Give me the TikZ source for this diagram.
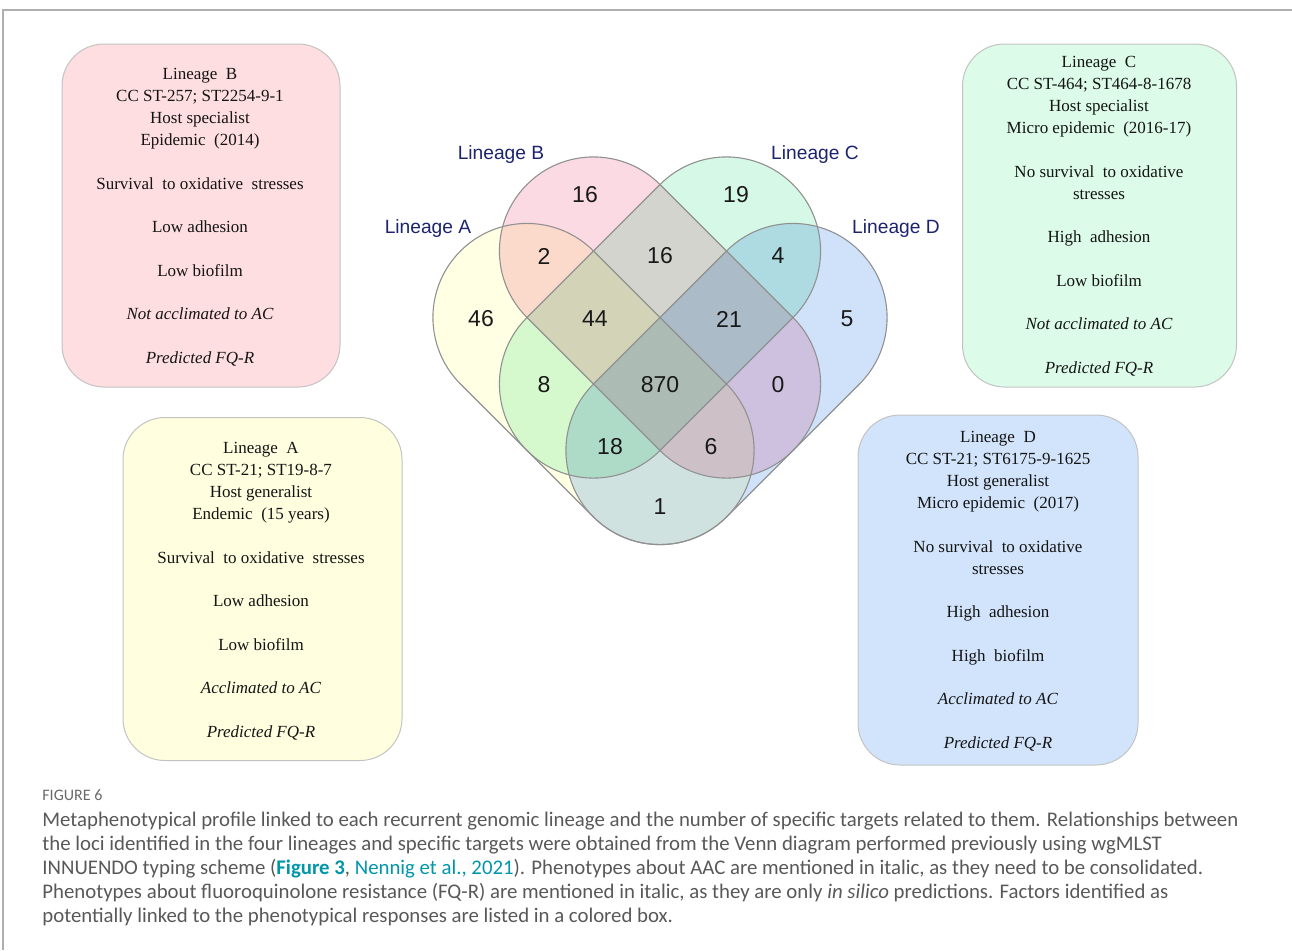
\documentclass[tikz,border=0pt]{standalone}
\usepackage{fontspec}
\setmainfont{Liberation Serif}
\newfontfamily\lsans{Liberation Sans}
\newfontfamily\capfont{Carlito}
\definecolor{vA}{RGB}{255,255,228}
\definecolor{vB}{RGB}{252,218,228}
\definecolor{vC}{RGB}{214,248,230}
\definecolor{vD}{RGB}{208,226,250}
\definecolor{vline}{RGB}{145,145,145}
\definecolor{bxA}{RGB}{255,255,224}
\definecolor{bxB}{RGB}{254,222,224}
\definecolor{bxC}{RGB}{220,251,232}
\definecolor{bxD}{RGB}{210,228,251}
\definecolor{bxline}{RGB}{195,195,195}
\definecolor{navy}{RGB}{28,36,110}
\definecolor{capgray}{RGB}{88,88,88}
\definecolor{linkteal}{RGB}{0,150,170}
\definecolor{framegray}{RGB}{175,175,175}
\newcommand\capsulepath[4]{%
  \path[#4, shift={(#1,#2)}, rotate=#3, rounded corners=47pt]
    (-188.1,-94.05) -- (188.1,-94.05) -- (188.1,94.05) -- (-188.1,94.05) -- cycle;}
\begin{document}
\begin{tikzpicture}[x=0.5pt,y=-0.5pt,
  lbox/.style={draw=bxline, line width=0.5pt, rounded corners=21pt, inner sep=0pt},
  boxtext/.style={font=\fontsize{8.5}{11}\selectfont, align=center, inner sep=0pt, anchor=north, text=black!92},
  linlab/.style={font=\lsans\fontsize{9.6}{12}\selectfont, text=navy, inner sep=0pt},
  num/.style={font=\lsans\fontsize{11.5}{14}\selectfont, text=black!90, inner sep=0pt},
  captext/.style={font=\capfont\fontsize{10.4}{12}\selectfont, text=capgray, align=left, inner sep=0pt}
]
\useasboundingbox (0,0) rectangle (1292,950);
% page frame
\draw[framegray, line width=0.8pt] (3,950) -- (3,10) -- (1292,10);

% lineage boxes
\node[lbox, fill=bxB, minimum width=139pt, minimum height=171.5pt] (boxB) at (201,215.5) {};
\node[lbox, fill=bxC, minimum width=137pt, minimum height=171.5pt] (boxC) at (1099.5,215.5) {};
\node[lbox, fill=bxA, minimum width=139.5pt, minimum height=171.5pt] (boxA) at (262.5,589) {};
\node[lbox, fill=bxD, minimum width=140pt, minimum height=175pt] (boxD) at (998,590) {};

\node[boxtext] (tB) at (200,68) {Lineage~ B\\CC ST-257; ST2254-9-1\\Host specialist\\Epidemic~ (2014)\\[10.75pt]
Survival~ to oxidative~ stresses\\[10.75pt]Low adhesion\\[10.75pt]Low biofilm\\[10.75pt]\textit{Not acclimated to AC}\\[10.75pt]\textit{Predicted FQ-R}};
\node[boxtext] (tC) at (1099,56) {Lineage~ C\\CC ST-464; ST464-8-1678\\Host specialist\\Micro epidemic~ (2016-17)\\[10.75pt]
No survival~ to oxidative\\stresses\\[10.75pt]High~ adhesion\\[10.75pt]Low biofilm\\[10.75pt]\textit{Not acclimated to AC}\\[10.75pt]\textit{Predicted FQ-R}};
\node[boxtext] (tA) at (261,442) {Lineage~ A\\CC ST-21; ST19-8-7\\Host generalist\\Endemic~ (15 years)\\[10.75pt]
Survival~ to oxidative~ stresses\\[10.75pt]Low adhesion\\[10.75pt]Low biofilm\\[10.75pt]\textit{Acclimated to AC}\\[10.75pt]\textit{Predicted FQ-R}};
\node[boxtext] (tD) at (998,431) {Lineage~ D\\CC ST-21; ST6175-9-1625\\Host generalist\\Micro epidemic~ (2017)\\[10.75pt]
No survival~ to oxidative\\stresses\\[10.75pt]High~ adhesion\\[10.75pt]High~ biofilm\\[10.75pt]\textit{Acclimated to AC}\\[10.75pt]\textit{Predicted FQ-R}};

% Venn diagram: four capsules
\begin{scope}[blend group=multiply]
  \capsulepath{593.5}{384}{-45}{fill=vA}
  \capsulepath{660}{317.5}{-45}{fill=vB}
  \capsulepath{660}{317.5}{45}{fill=vC}
  \capsulepath{726.5}{384}{45}{fill=vD}
\end{scope}
\capsulepath{593.5}{384}{-45}{draw=vline, line width=0.55pt}
\capsulepath{660}{317.5}{-45}{draw=vline, line width=0.55pt}
\capsulepath{660}{317.5}{45}{draw=vline, line width=0.55pt}
\capsulepath{726.5}{384}{45}{draw=vline, line width=0.55pt}

% set labels
\node[linlab] (lA) at (428,229) {Lineage A};
\node[linlab] (lB) at (501,155) {Lineage B};
\node[linlab] (lC) at (815,155) {Lineage C};
\node[linlab] (lD) at (896,229) {Lineage D};

% region counts
\node[num] (nB) at (585,195) {16};
\node[num] (nC) at (736,195) {19};
\node[num] (nAB) at (544,256) {2};
\node[num] (nBC) at (660,256) {16};
\node[num] (nCD) at (778,256) {4};
\node[num] (nA) at (481,319) {46};
\node[num] (nABC) at (595,319) {44};
\node[num] (nBCD) at (729,319) {21};
\node[num] (nD) at (847,319) {5};
\node[num] (nAC) at (544,385) {8};
\node[num] (nABCD) at (660,385) {870};
\node[num] (nBD) at (778,385) {0};
\node[num] (nACD) at (610,447) {18};
\node[num] (nABD) at (711,447) {6};
\node[num] (nAD) at (660,507) {1};

% caption
\node[font=\capfont\fontsize{8}{9}\selectfont, text=capgray!90, anchor=west, inner sep=0pt] (fig) at (42,795) {FIGURE 6};
\node[captext, anchor=north west] (cap) at (42,812) {Metaphenotypical profile linked to each recurrent genomic lineage and the number of specific targets related to them. Relationships between\\
the loci identified in the four lineages and specific targets were obtained from the Venn diagram performed previously using wgMLST\\
INNUENDO typing scheme ({\color{linkteal}\textbf{Figure 3}}, {\color{linkteal}Nennig et al., 2021}). Phenotypes about AAC are mentioned in italic, as they need to be consolidated.\\
Phenotypes about fluoroquinolone resistance (FQ-R) are mentioned in italic, as they are only \textit{in silico} predictions. Factors identified as\\
potentially linked to the phenotypical responses are listed in a colored box.};
\end{tikzpicture}
\end{document}
